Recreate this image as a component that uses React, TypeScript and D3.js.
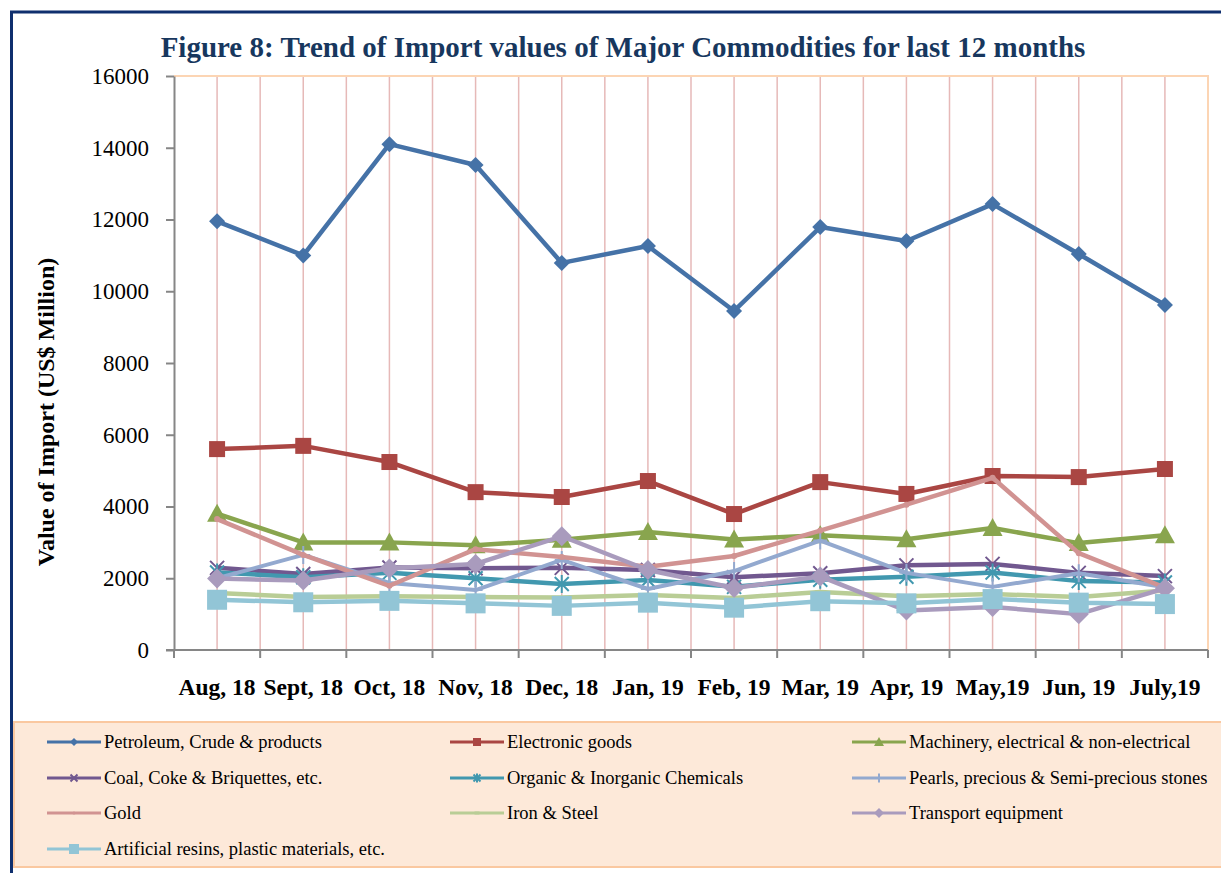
import { useEffect, useRef } from "react";
import * as d3 from "d3";

const months = ["Aug, 18", "Sept, 18", "Oct, 18", "Nov, 18", "Dec, 18", "Jan, 19", "Feb, 19", "Mar, 19", "Apr, 19", "May,19", "Jun, 19", "July,19"];

const petroleum = [11950, 11000, 14100, 13520, 10790, 11260, 9450, 11790, 11400, 12430, 11040, 9620];
const electronic = [5600, 5690, 5240, 4400, 4265, 4710, 3790, 4680, 4350, 4850, 4820, 5045];
const machinery = [3800, 3000, 3000, 2920, 3070, 3290, 3080, 3200, 3090, 3400, 2980, 3200];
const coal = [2290, 2120, 2300, 2280, 2290, 2230, 2030, 2140, 2360, 2400, 2150, 2060];
const organic = [2160, 2030, 2150, 2000, 1840, 1950, 1760, 1960, 2040, 2160, 1920, 1880];
const pearls = [2000, 2650, 1870, 1670, 2510, 1700, 2200, 3050, 2150, 1760, 2140, 1750];
const gold = [3650, 2650, 1790, 2810, 2590, 2320, 2620, 3330, 4050, 4800, 2700, 1740];
const iron = [1590, 1480, 1500, 1480, 1460, 1530, 1450, 1620, 1500, 1560, 1480, 1660];
const transport = [1990, 1940, 2270, 2400, 3170, 2230, 1730, 2050, 1100, 1200, 1000, 1720];
const resins = [1400, 1330, 1370, 1300, 1230, 1320, 1180, 1360, 1300, 1420, 1320, 1280];

const yTicks = [0, 2000, 4000, 6000, 8000, 10000, 12000, 14000, 16000];

type Marker = "diamond" | "square" | "triangle" | "x" | "asterisk" | "plus" | "circle" | "dash" | "bigsquare" | "bigdiamond";

const seriesList: { name: string; values: number[]; color: string; marker: Marker }[] = [
  { name: "Petroleum, Crude & products", values: petroleum, color: "#4572A7", marker: "diamond" },
  { name: "Electronic goods", values: electronic, color: "#AA4643", marker: "square" },
  { name: "Machinery, electrical & non-electrical", values: machinery, color: "#89A54E", marker: "triangle" },
  { name: "Coal, Coke & Briquettes, etc.", values: coal, color: "#71588F", marker: "x" },
  { name: "Organic & Inorganic Chemicals", values: organic, color: "#4198AF", marker: "asterisk" },
  { name: "Pearls, precious & Semi-precious stones", values: pearls, color: "#93A9CF", marker: "plus" },
  { name: "Gold", values: gold, color: "#D19392", marker: "circle" },
  { name: "Iron & Steel", values: iron, color: "#B9CD96", marker: "dash" },
  { name: "Transport equipment", values: transport, color: "#A99BBD", marker: "bigdiamond" },
  { name: "Artificial resins, plastic materials, etc.", values: resins, color: "#92C5D6", marker: "bigsquare" },
];

function drawMarker(g: d3.Selection<SVGGElement, unknown, null, undefined>, kind: Marker, color: string, k: number) {
  switch (kind) {
    case "diamond":
      g.append("path").attr("d", `M0,${-8 * k}L${8 * k},0L0,${8 * k}L${-8 * k},0Z`).attr("fill", color);
      break;
    case "bigdiamond":
      g.append("path").attr("d", `M0,${-10 * k}L${10 * k},0L0,${10 * k}L${-10 * k},0Z`).attr("fill", color);
      break;
    case "square":
      g.append("rect").attr("x", -8 * k).attr("y", -8 * k).attr("width", 16 * k).attr("height", 16 * k).attr("fill", color);
      break;
    case "bigsquare":
      g.append("rect").attr("x", -10 * k).attr("y", -10 * k).attr("width", 20 * k).attr("height", 20 * k).attr("fill", color);
      break;
    case "triangle":
      g.append("path").attr("d", `M0,${-10 * k}L${10 * k},${8 * k}L${-10 * k},${8 * k}Z`).attr("fill", color);
      break;
    case "x":
      g.append("path").attr("d", `M${-7 * k},${-7 * k}L${7 * k},${7 * k}M${7 * k},${-7 * k}L${-7 * k},${7 * k}`)
        .attr("stroke", color).attr("stroke-width", 2);
      break;
    case "asterisk":
      g.append("path").attr("d", `M${-7 * k},${-7 * k}L${7 * k},${7 * k}M${7 * k},${-7 * k}L${-7 * k},${7 * k}M0,${-9 * k}L0,${9 * k}`)
        .attr("stroke", color).attr("stroke-width", 2);
      break;
    case "plus":
      g.append("path").attr("d", `M${-7 * k},0L${7 * k},0M0,${-9 * k}L0,${9 * k}`)
        .attr("stroke", color).attr("stroke-width", 2);
      break;
    case "circle":
      g.append("circle").attr("r", 3 * k).attr("fill", color);
      break;
    case "dash":
      g.append("path").attr("d", `M${-5 * k},0L${5 * k},0`).attr("stroke", color).attr("stroke-width", 3);
      break;
  }
}

export default function App() {
  const svgRef = useRef<SVGSVGElement>(null);

  useEffect(() => {
    if (!svgRef.current) return;
    const svg = d3.select(svgRef.current);
    svg.selectAll("*").remove();

    const left = 174, right = 1208, top = 76, bottom = 650;
    const serif = "'Liberation Serif', 'Times New Roman', serif";

    svg.append("rect").attr("width", 1221).attr("height", 873).attr("fill", "#fff");

    // outer frame
    svg.append("rect").attr("x", 11.5).attr("y", 12).attr("width", 1240).attr("height", 900)
      .attr("fill", "none").attr("stroke", "#0F2F6E").attr("stroke-width", 3);

    const x = d3.scaleBand<string>().domain(months).range([left, right]);
    const cx = (m: string) => (x(m) as number) + x.bandwidth() / 2;
    const y = d3.scaleLinear().domain([0, 16000]).range([bottom, top]);

    // title
    svg.append("text").attr("x", 623).attr("y", 57).attr("text-anchor", "middle")
      .attr("font-family", serif).attr("font-weight", "bold").attr("font-size", 29).attr("fill", "#17375E")
      .text("Figure 8: Trend of Import values of Major Commodities for last 12 months");

    // vertical grid lines (category centres and boundaries)
    const grid = svg.append("g");
    months.forEach((m, i) => {
      const xs = i === 0 ? [cx(m)] : [x(m) as number, cx(m)];
      xs.forEach((gx) => {
        grid.append("line").attr("x1", gx).attr("x2", gx).attr("y1", top).attr("y2", bottom)
          .attr("stroke", "#E6B9B8").attr("stroke-width", 1.5);
      });
    });

    // plot border top / right
    svg.append("path").attr("d", `M${left},${top}H${right}V${bottom}`)
      .attr("fill", "none").attr("stroke", "#FCD5B4").attr("stroke-width", 2);

    // y axis
    const yAxis = svg.append("g").attr("transform", `translate(${left},0)`)
      .call(d3.axisLeft(y).tickValues(yTicks).tickFormat(d3.format("d")).tickSize(8).tickPadding(17).tickSizeOuter(0));
    yAxis.select(".domain").attr("stroke", "#868686").attr("stroke-width", 2);
    yAxis.selectAll(".tick line").attr("stroke", "#868686").attr("stroke-width", 2);
    yAxis.selectAll(".tick text").attr("font-family", serif).attr("font-size", 23).attr("fill", "#000");

    // x axis
    const xg = svg.append("g");
    xg.append("line").attr("x1", left - 8).attr("x2", right).attr("y1", bottom).attr("y2", bottom)
      .attr("stroke", "#868686").attr("stroke-width", 2);
    [...months.map((m) => x(m) as number), right].forEach((bx) => {
      xg.append("line").attr("x1", bx).attr("x2", bx).attr("y1", bottom).attr("y2", bottom + 8)
        .attr("stroke", "#868686").attr("stroke-width", 2);
    });
    months.forEach((m) => {
      xg.append("text").attr("x", cx(m)).attr("y", 695).attr("text-anchor", "middle")
        .attr("font-family", serif).attr("font-weight", "bold").attr("font-size", 23.5).attr("fill", "#000")
        .text(m);
    });

    // y title
    svg.append("text").attr("transform", "translate(54,412) rotate(-90)").attr("text-anchor", "middle")
      .attr("font-family", serif).attr("font-weight", "bold").attr("font-size", 24).attr("fill", "#000")
      .text("Value of Import (US$ Million)");

    // series
    const line = d3.line<number>().x((_, i) => cx(months[i])).y((d) => y(d));
    seriesList.forEach((s) => {
      const g = svg.append("g");
      g.append("path").attr("d", line(s.values)).attr("fill", "none").attr("stroke", s.color)
        .attr("stroke-width", s.marker === "plus" ? 4 : 4.5).attr("stroke-linejoin", "round");
      s.values.forEach((v, i) => {
        const mg = g.append("g").attr("transform", `translate(${cx(months[i])},${y(v)})`);
        drawMarker(mg, s.marker, s.color, 1);
      });
    });

    // legend
    const lg = svg.append("g");
    lg.append("rect").attr("x", 14).attr("y", 722).attr("width", 1230).attr("height", 145)
      .attr("fill", "#FDE9D9").attr("stroke", "#FAC8A0").attr("stroke-width", 2);
    const colX = [47, 450, 852];
    const rowY = [742, 778, 813, 849];
    seriesList.forEach((s, i) => {
      const lx = colX[i % 3], ly = rowY[Math.floor(i / 3)];
      const g = lg.append("g");
      g.append("line").attr("x1", lx).attr("x2", lx + 54).attr("y1", ly).attr("y2", ly)
        .attr("stroke", s.color).attr("stroke-width", 3);
      const mg = g.append("g").attr("transform", `translate(${lx + 27},${ly})`);
      drawMarker(mg, s.marker, s.color, 0.5);
      g.append("text").attr("x", lx + 57).attr("y", ly + 6).attr("font-family", serif)
        .attr("font-size", 18.5).attr("fill", "#000").text(s.name);
    });
  }, []);

  return (
    <div style={{ position: "fixed", left: 0, top: 0 }}>
      <svg ref={svgRef} width={1221} height={873} style={{ display: "block" }} />
    </div>
  );
}
